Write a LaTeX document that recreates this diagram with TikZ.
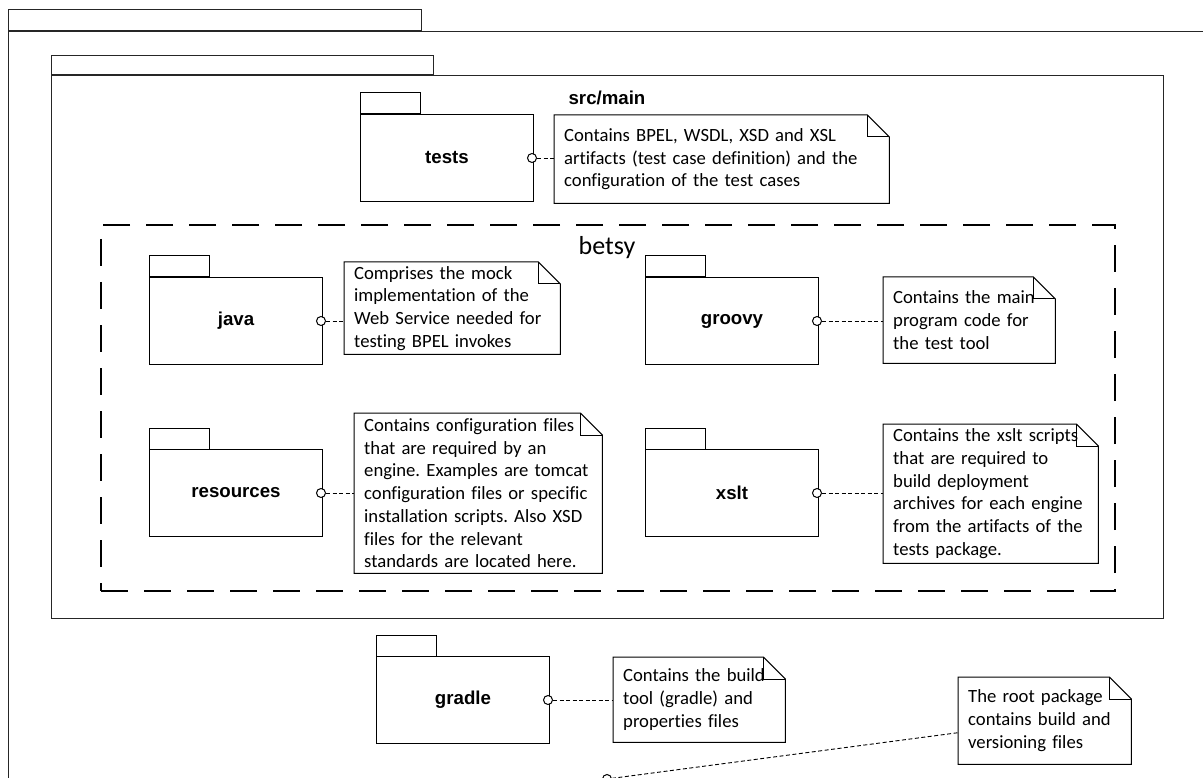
\documentclass[tikz,border=0pt]{standalone}
\usepackage{fontspec}
\setmainfont{Carlito}[Ligatures=NoCommon]
\newfontfamily\arialfont{Liberation Sans}
\frenchspacing

\newlength{\du}
\setlength{\du}{1pt}
\definecolor{dialinecolor}{rgb}{0.000000, 0.000000, 0.000000}

\tikzset{
  diashape/.style={draw=dialinecolor, line width=1\du, fill=white, inner sep=0pt},
  framebox/.style={diashape, anchor=north west, draw=dialinecolor!85},
  pkgbox/.style={diashape, anchor=north west, minimum width=173\du, minimum height=87\du,
    font=\arialfont\bfseries\fontsize{18.67}{22}\selectfont},
  pkgtab/.style={draw=dialinecolor, line width=1\du, fill=white},
  notebox/.style={anchor=north west, inner xsep=10\du, inner ysep=0pt, align=left,
    font=\fontsize{18.67}{22.7}\selectfont},
  noteline/.style={draw=dialinecolor, line width=1\du, line join=miter},
  portmark/.style={circle, draw=dialinecolor, fill=white, line width=1\du,
    minimum size=9\du, inner sep=0pt},
  notelink/.style={draw=dialinecolor, line width=0.9\du, dash pattern=on 4\du off 2.5\du},
  betsybox/.style={anchor=north west, draw=dialinecolor, line width=2\du,
    dash pattern=on 27\du off 16\du, inner sep=0pt},
  labeltext/.style={font=\arialfont\bfseries\fontsize{18.67}{22}\selectfont},
  betsytext/.style={font=\fontsize{26}{30}\selectfont}
}

\begin{document}
\begin{tikzpicture}
\pgftransformxscale{1.000000}
\pgftransformyscale{-1.000000}
\useasboundingbox (0\du,0\du) rectangle (1203\du,778\du);
% root package
\node[framebox, minimum width=1210\du, minimum height=748\du] (root) at (8\du,31\du) {};
\draw[pkgtab, draw=dialinecolor!85] (root.north west) rectangle ++(413\du,-21\du);
% src/main
\node[framebox, minimum width=1112\du, minimum height=543\du] (srcmain) at (51\du,75\du) {};
\draw[pkgtab, draw=dialinecolor!85] (srcmain.north west) rectangle ++(382\du,-19\du);
\node[labeltext] (srcmainname) at (607\du,98\du) {src/main};
% betsy
\node[betsybox, minimum width=1014\du, minimum height=366\du] (betsy) at (100\du,224\du) {};
\node[betsytext] (betsyname) at (607\du,248\du) {betsy};
% packages
\node[pkgbox] (tests) at (360\du,114\du) {tests};
\draw[pkgtab] (tests.north west) rectangle ++(60\du,-21\du);
\node[pkgbox] (java) at (149\du,277\du) {java};
\draw[pkgtab] (java.north west) rectangle ++(60\du,-21\du);
\node[pkgbox] (groovy) at (645\du,277\du) {groovy};
\draw[pkgtab] (groovy.north west) rectangle ++(60\du,-21\du);
\node[pkgbox] (resources) at (149\du,449\du) {resources};
\draw[pkgtab] (resources.north west) rectangle ++(60\du,-21\du);
\node[pkgbox] (xslt) at (645\du,449\du) {xslt};
\draw[pkgtab] (xslt.north west) rectangle ++(60\du,-21\du);
\node[pkgbox] (gradle) at (376\du,656\du) {gradle};
\draw[pkgtab] (gradle.north west) rectangle ++(60\du,-21\du);
% notes
\node[notebox, text width=315\du, minimum height=88\du] (notetests) at (554\du,115\du)
  {Contains BPEL, WSDL, XSD and XSL\\artifacts (test case definition) and the\\configuration of the test cases};
\node[notebox, text width=196\du, minimum height=92\du] (notejava) at (344\du,262\du)
  {Comprises the mock\\implementation of the\\Web Service needed for\\testing BPEL invokes};
\node[notebox, text width=152\du, minimum height=86\du] (notegroovy) at (883\du,277\du)
  {Contains the main\\program code for\\the test tool};
\node[notebox, text width=228\du, minimum height=160\du] (noteresources) at (354\du,413\du)
  {Contains configuration files\\that are required by an\\engine. Examples are tomcat\\configuration files or specific\\installation scripts. Also XSD\\files for the relevant\\standards are located here.};
\node[notebox, text width=195\du, minimum height=139\du] (notexslt) at (883\du,424\du)
  {Contains the xslt scripts\\that are required to\\build deployment\\archives for each engine\\from the artifacts of the\\tests package.};
\node[notebox, text width=152\du, minimum height=85\du] (notegradle) at (613\du,657\du)
  {Contains the build\\tool (gradle) and\\properties files};
\node[notebox, text width=153\du, minimum height=87\du] (noteroot) at (958\du,677\du)
  {The root package\\contains build and\\versioning files};
\foreach \n in {tests,java,groovy,resources,xslt,gradle,root}{
  \draw[noteline] (note\n.north west) -- ([xshift=-22\du]note\n.north east)
    -- ([yshift=22\du]note\n.north east) -- (note\n.south east) -- (note\n.south west) -- cycle;
  \draw[noteline] ([xshift=-22\du]note\n.north east) |- ([yshift=22\du]note\n.north east);
}
% attachments
\foreach \p in {tests,java,groovy,resources,xslt,gradle}{
  \node[portmark] (port\p) at ([xshift=-2\du]\p.east) {};
  \draw[notelink] (port\p.east) -- (port\p.east -| note\p.west);
}
\node[portmark] (portroot) at (607\du,779\du) {};
\draw[notelink] (portroot) -- ([yshift=12\du]noteroot.west);
\end{tikzpicture}
\end{document}
